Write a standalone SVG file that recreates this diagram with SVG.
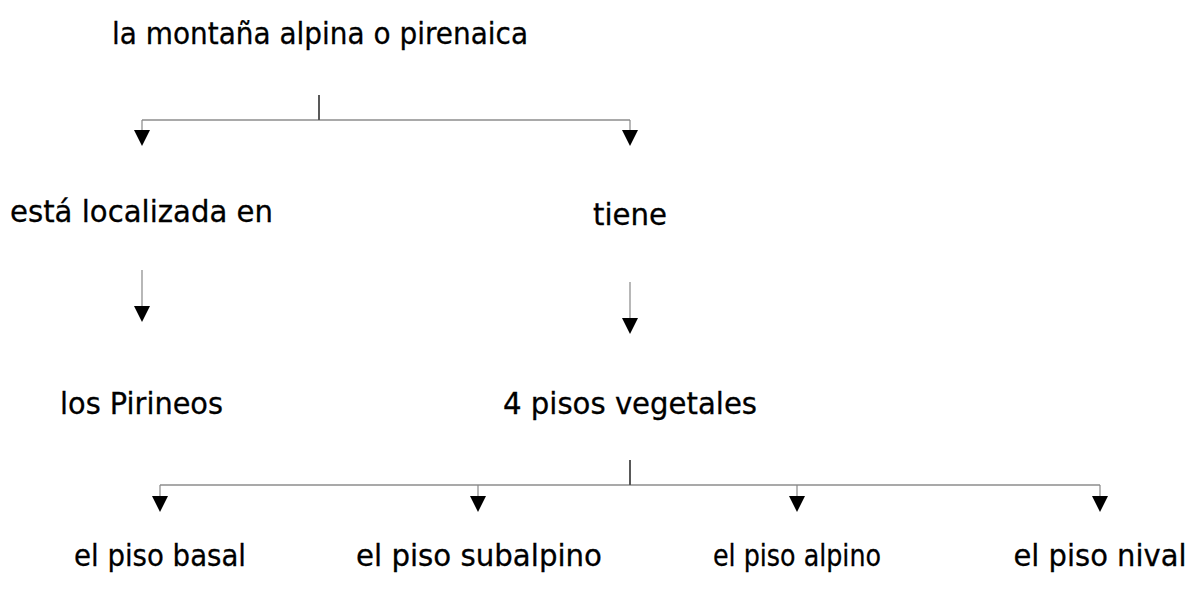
<svg xmlns="http://www.w3.org/2000/svg" width="1201" height="592" viewBox="0 0 1201 592">
  <style>
    .lbl { font-family: "DejaVu Sans", "Lato", sans-serif; font-size: 30px; fill: #000; stroke: #000; stroke-width: 0.3; text-anchor: middle; }
    .ln { stroke: #555; stroke-width: 1.2; fill: none; }
    .stem { stroke: #222; stroke-width: 1.5; fill: none; }
    .arr { stroke: #888; stroke-width: 1.2; fill: none; marker-end: url(#ah); }
  </style>
  <defs>
    <marker id="ah" viewBox="0 0 16 16" markerWidth="16" markerHeight="16" refX="0" refY="8" orient="auto" markerUnits="userSpaceOnUse">
      <path d="M0,0 L16,8 L0,16 Z" fill="#000"/>
    </marker>
  </defs>
  <rect width="1201" height="592" fill="#fff"/>

  <g id="connectors">
    <line class="stem" x1="319" y1="95" x2="319" y2="120"/>
    <line class="ln" x1="142" y1="120" x2="630" y2="120"/>
    <line class="arr" x1="142" y1="120" x2="142" y2="130"/>
    <line class="arr" x1="630" y1="120" x2="630" y2="130"/>
    <line class="arr" x1="142" y1="270" x2="142" y2="306"/>
    <line class="arr" x1="630" y1="282" x2="630" y2="318"/>
    <line class="stem" x1="630" y1="460" x2="630" y2="485"/>
    <line class="ln" x1="160" y1="485" x2="1100" y2="485"/>
    <line class="arr" x1="160" y1="485" x2="160" y2="496"/>
    <line class="arr" x1="478" y1="485" x2="478" y2="496"/>
    <line class="arr" x1="797" y1="485" x2="797" y2="496"/>
    <line class="arr" x1="1100" y1="485" x2="1100" y2="496"/>
  </g>

  <g id="n-montana"><text class="lbl" x="320" y="44" textLength="416" lengthAdjust="spacingAndGlyphs">la montaña alpina o pirenaica</text></g>
  <g id="n-localizada"><text class="lbl" x="141.5" y="222" textLength="263" lengthAdjust="spacingAndGlyphs">está localizada en</text></g>
  <g id="n-tiene"><text class="lbl" x="630" y="225" textLength="74" lengthAdjust="spacingAndGlyphs">tiene</text></g>
  <g id="n-pirineos"><text class="lbl" x="141.5" y="414" textLength="163" lengthAdjust="spacingAndGlyphs">los Pirineos</text></g>
  <g id="n-pisos"><text class="lbl" x="630" y="414" textLength="254" lengthAdjust="spacingAndGlyphs">4 pisos vegetales</text></g>
  <g id="n-basal"><text class="lbl" x="160" y="566" textLength="172" lengthAdjust="spacingAndGlyphs">el piso basal</text></g>
  <g id="n-subalpino"><text class="lbl" x="479" y="566" textLength="246" lengthAdjust="spacingAndGlyphs">el piso subalpino</text></g>
  <g id="n-alpino"><text class="lbl" x="797" y="566" textLength="168" lengthAdjust="spacingAndGlyphs">el piso alpino</text></g>
  <g id="n-nival"><text class="lbl" x="1100" y="566" textLength="173" lengthAdjust="spacingAndGlyphs">el piso nival</text></g>
</svg>
